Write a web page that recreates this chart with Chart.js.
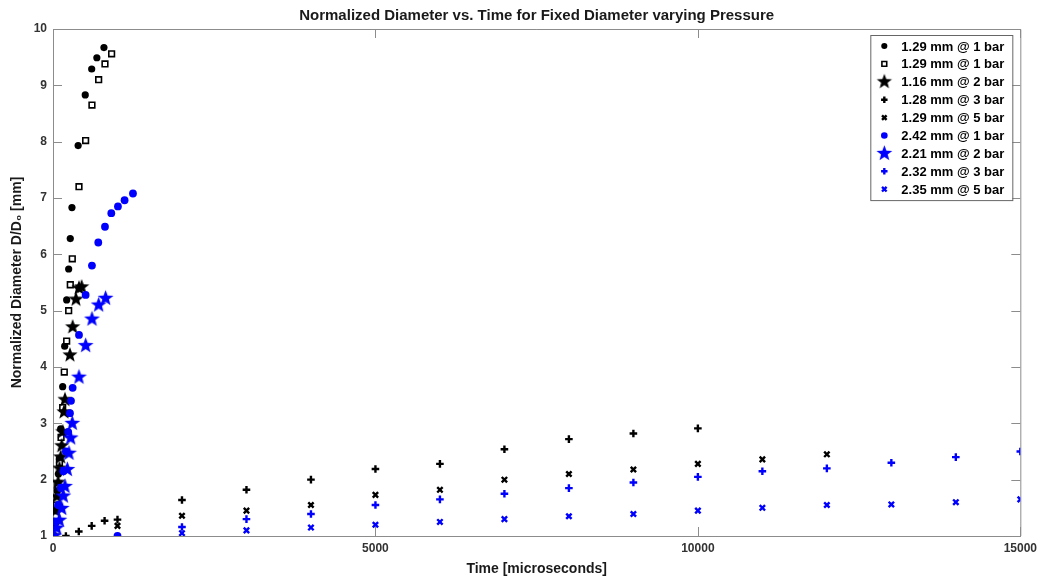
<!DOCTYPE html>
<html>
<head>
<meta charset="utf-8">
<script src="https://cdn.jsdelivr.net/npm/chart.js@4.4.1/dist/chart.umd.min.js"></script>
<style>body{margin:0;background:#fff}</style>
</head>
<body>
<canvas id="diameterChart" width="1042" height="578"></canvas>
<script>
// series labels (legend order)
const seriesLabels = [
  "1.29 mm @ 1 bar", "1.29 mm @ 1 bar", "1.16 mm @ 2 bar", "1.28 mm @ 3 bar", "1.29 mm @ 5 bar",
  "2.42 mm @ 1 bar", "2.21 mm @ 2 bar", "2.32 mm @ 3 bar", "2.35 mm @ 5 bar"
];

// black circles
const circ129Time = [0, 25, 45, 67, 85, 98, 119, 150, 181, 212, 243, 268, 294, 390, 500, 600, 680, 790];
const circ129Dia  = [1.0, 1.2, 1.45, 1.8, 2.1, 2.37, 2.9, 3.65, 4.37, 5.19, 5.74, 6.28, 6.83, 7.93, 8.83, 9.29, 9.49, 9.67];
// black open squares
const sq129Time = [0, 25, 50, 75, 100, 125, 150, 175, 212, 243, 268, 299, 403, 506, 604, 708, 806, 909];
const sq129Dia  = [1.0, 1.25, 1.55, 1.9, 2.3, 2.75, 3.28, 3.91, 4.46, 5.0, 5.46, 5.92, 7.2, 8.02, 8.65, 9.1, 9.38, 9.56];
// black stars
const star116Time = [0, 20, 40, 60, 80, 100, 120, 135, 150, 170, 186, 263, 305, 356, 403, 444];
const star116Dia  = [1.0, 1.2, 1.45, 1.7, 1.95, 2.2, 2.4, 2.6, 2.85, 3.2, 3.42, 4.21, 4.71, 5.2, 5.4, 5.42];
// black plus
const plus128Time = [200, 400, 600, 800, 1000, 2000, 3000, 4000, 5000, 6000, 7000, 8000, 9000, 10000];
const plus128Dia  = [1.0, 1.08, 1.18, 1.27, 1.29, 1.64, 1.82, 2.0, 2.19, 2.28, 2.54, 2.72, 2.82, 2.91];
// black x
const x129Time = [1000, 2000, 3000, 4000, 5000, 6000, 7000, 8000, 9000, 10000, 11000, 12000];
const x129Dia  = [1.18, 1.36, 1.45, 1.55, 1.73, 1.82, 2.0, 2.1, 2.18, 2.28, 2.36, 2.45];
// blue circles
const circ242Time = [0, 40, 80, 120, 160, 200, 235, 263, 279, 305, 403, 506, 604, 702, 806, 904, 1007, 1110, 1240, 1000];
const circ242Dia  = [1.0, 1.25, 1.55, 1.85, 2.15, 2.5, 2.85, 3.18, 3.4, 3.63, 4.57, 5.28, 5.8, 6.21, 6.49, 6.73, 6.85, 6.96, 7.08, 1.0];
// blue stars
const star221Time = [15, 57, 98, 135, 160, 186, 222, 248, 274, 299, 403, 506, 604, 708, 816];
const star221Dia  = [1.0, 1.14, 1.28, 1.49, 1.71, 1.88, 2.18, 2.47, 2.74, 3.0, 3.82, 4.38, 4.85, 5.1, 5.22];
// blue plus
const plus232Time = [2000, 3000, 4000, 5000, 6000, 7000, 8000, 9000, 10000, 11000, 12000, 13000, 14000, 15000];
const plus232Dia  = [1.16, 1.3, 1.39, 1.55, 1.65, 1.75, 1.85, 1.95, 2.05, 2.15, 2.2, 2.3, 2.4, 2.5];
// blue x
const x235Time = [2000, 3000, 4000, 5000, 6000, 7000, 8000, 9000, 10000, 11000, 12000, 13000, 14000, 15000];
const x235Dia  = [1.05, 1.1, 1.15, 1.2, 1.25, 1.3, 1.35, 1.39, 1.45, 1.5, 1.55, 1.56, 1.6, 1.65];

const xTickValues = [0, 5000, 10000, 15000];
const yTickValues = [1, 2, 3, 4, 5, 6, 7, 8, 9, 10];

const BLUE = "#0000ff";
const AXIS = "#8c8c8c";
const FONT = '"Liberation Sans", Arial, sans-serif';

// filled five point star as a point image
function makeStar(color, r) {
  const c = document.createElement("canvas");
  const s = Math.ceil(2 * r + 2);
  c.width = c.height = s;
  const g = c.getContext("2d");
  g.fillStyle = color;
  g.beginPath();
  for (let k = 0; k < 10; k++) {
    const rr = k % 2 ? r * 0.42 : r;
    const a = -Math.PI / 2 + k * Math.PI / 5;
    g.lineTo(s / 2 + rr * Math.cos(a), s / 2 + rr * Math.sin(a));
  }
  g.closePath();
  g.fill();
  return c;
}

function series(label, times, dias, style, order) {
  return Object.assign({
    label: label,
    data: times.map((t, i) => ({ x: t, y: dias[i] })),
    showLine: false,
    order: order,
  }, style);
}

const styles = [
  { pointStyle: "circle", pointRadius: 3.6, pointBackgroundColor: "#000", pointBorderColor: "#000", pointBorderWidth: 0 },
  { pointStyle: "rect", pointRadius: 4, pointBackgroundColor: "#fff", pointBorderColor: "#000", pointBorderWidth: 1.6 },
  { pointStyle: makeStar("#000", 8), pointRadius: 7, pointBackgroundColor: "#000", pointBorderColor: "#000", pointBorderWidth: 0 },
  { pointStyle: "cross", pointRadius: 3.8, pointBackgroundColor: "#000", pointBorderColor: "#000", pointBorderWidth: 2.4 },
  { pointStyle: "crossRot", pointRadius: 3.8, pointBackgroundColor: "#000", pointBorderColor: "#000", pointBorderWidth: 2.4 },
  { pointStyle: "circle", pointRadius: 3.9, pointBackgroundColor: BLUE, pointBorderColor: BLUE, pointBorderWidth: 0 },
  { pointStyle: makeStar(BLUE, 8.3), pointRadius: 8, pointBackgroundColor: BLUE, pointBorderColor: BLUE, pointBorderWidth: 0 },
  { pointStyle: "cross", pointRadius: 3.8, pointBackgroundColor: BLUE, pointBorderColor: BLUE, pointBorderWidth: 2.4 },
  { pointStyle: "crossRot", pointRadius: 3.8, pointBackgroundColor: BLUE, pointBorderColor: BLUE, pointBorderWidth: 2.4 },
];

const allTimes = [circ129Time, sq129Time, star116Time, plus128Time, x129Time, circ242Time, star221Time, plus232Time, x235Time];
const allDias  = [circ129Dia, sq129Dia, star116Dia, plus128Dia, x129Dia, circ242Dia, star221Dia, plus232Dia, x235Dia];

const datasets = seriesLabels.map((lab, i) => series(lab, allTimes[i], allDias[i], styles[i], 8 - i));

// box round the plot and inward ticks, like the original
const framePlugin = {
  id: "frame",
  beforeDatasetsDraw(chart) {
    const { ctx, chartArea: a, scales: { x, y } } = chart;
    ctx.save();
    ctx.strokeStyle = AXIS;
    ctx.lineWidth = 1;
    ctx.beginPath();
    ctx.moveTo(a.left, a.top + 0.5);
    ctx.lineTo(a.right + 0.5, a.top + 0.5);
    ctx.lineTo(a.right + 0.5, a.bottom);
    x.ticks.forEach(t => {
      const px = Math.round(x.getPixelForValue(t.value)) + 0.5;
      ctx.moveTo(px, a.bottom); ctx.lineTo(px, a.bottom - 9);
      ctx.moveTo(px, a.top); ctx.lineTo(px, a.top + 9);
    });
    y.ticks.forEach(t => {
      const py = Math.round(y.getPixelForValue(t.value)) + 0.5;
      ctx.moveTo(a.left, py); ctx.lineTo(a.left + 9, py);
      ctx.moveTo(a.right, py); ctx.lineTo(a.right - 9, py);
    });
    ctx.stroke();
    ctx.restore();
  },
  afterDraw(chart) {
    // legend box inside the plot, top right
    const { ctx, chartArea: a } = chart;
    const boxR = a.right - 8, boxL = boxR - 142, boxT = a.top + 6, rowH = 17.9;
    const boxH = 12 + rowH * seriesLabels.length - 8;
    ctx.save();
    ctx.fillStyle = "#fff";
    ctx.fillRect(boxL, boxT, boxR - boxL, boxH);
    ctx.strokeStyle = "#666";
    ctx.lineWidth = 1;
    ctx.strokeRect(boxL + 0.5, boxT + 0.5, boxR - boxL, boxH);
    ctx.font = "bold 13px " + FONT;
    ctx.textBaseline = "middle";
    chart.data.datasets.forEach((ds, i) => {
      const yy = boxT + 11 + i * rowH;
      ctx.fillStyle = ds.pointBackgroundColor;
      ctx.strokeStyle = ds.pointBorderColor;
      ctx.lineWidth = ds.pointBorderWidth;
      Chart.helpers.drawPoint(ctx, {
        pointStyle: ds.pointStyle,
        radius: ds.pointRadius * 0.85,
        borderWidth: ds.pointBorderWidth,
        rotation: 0,
      }, boxL + 14, yy);
      ctx.fillStyle = "#000";
      ctx.fillText(ds.label, boxL + 31, yy + 1);
    });
    ctx.restore();
  },
};

const ctx = document.getElementById("diameterChart").getContext("2d");

const config = {
  type: "scatter",
  data: { datasets: datasets },
  options: {
    responsive: false,
    animation: false,
    layout: { padding: { left: 9, right: 21, top: 0, bottom: 0 } },
    plugins: {
      legend: { display: false },
      tooltip: { enabled: false },
      title: {
        display: true,
        fullSize: false,
        text: "Normalized Diameter vs. Time for Fixed Diameter varying Pressure",
        color: "#1a1a1a",
        font: { family: FONT, size: 15, weight: "bold" },
        padding: { top: 7, bottom: 4 },
      },
    },
    scales: {
      x: {
        type: "linear",
        min: 0,
        max: 15000,
        afterBuildTicks: s => { s.ticks = xTickValues.map(v => ({ value: v })); },
        afterFit: s => { s.height = 42; },
        ticks: {
          color: "#333",
          padding: 5,
          maxRotation: 0,
          font: { family: FONT, size: 12, weight: "bold" },
          callback: v => String(v),
        },
        grid: { drawOnChartArea: false, drawTicks: false },
        border: { color: AXIS },
        title: {
          display: true,
          text: "Time [microseconds]",
          color: "#1a1a1a",
          font: { family: FONT, size: 14, weight: "bold" },
          padding: { top: 3, bottom: 0 },
        },
      },
      y: {
        type: "linear",
        min: 1,
        max: 10,
        afterBuildTicks: s => { s.ticks = yTickValues.map(v => ({ value: v })); },
        afterFit: s => { s.width = 44; },
        ticks: {
          color: "#333",
          padding: 6,
          font: { family: FONT, size: 12, weight: "bold" },
          callback: v => String(v),
        },
        grid: { drawOnChartArea: false, drawTicks: false },
        border: { color: AXIS },
        title: {
          display: true,
          text: "Normalized Diameter D/D\u2080 [mm]",
          color: "#1a1a1a",
          font: { family: FONT, size: 14, weight: "bold" },
          padding: { top: 0, bottom: 4 },
        },
      },
    },
  },
  plugins: [framePlugin],
};

const diameterChart = new Chart(ctx, config);
</script>
</body>
</html>
